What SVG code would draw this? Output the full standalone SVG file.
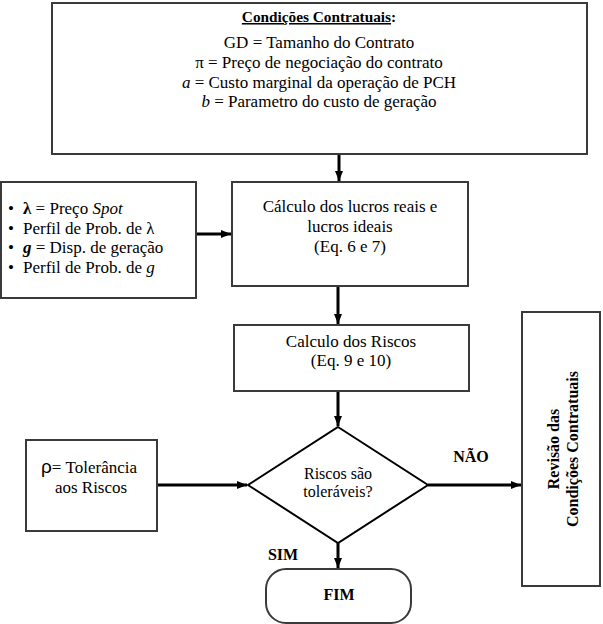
<svg xmlns="http://www.w3.org/2000/svg" width="603" height="624" viewBox="0 0 603 624">
<style>
.box{fill:#fff;stroke:#3a3a3a;stroke-width:2}
.t{font-family:'Liberation Serif','Times New Roman',Tinos,'DejaVu Serif',serif;font-size:17px;font-weight:normal;fill:#000}
.b{font-weight:bold}
.c{text-anchor:middle}
.con{stroke:#000;stroke-width:3;fill:none}
</style>
<defs>
<marker id="ah" markerUnits="userSpaceOnUse" markerWidth="10" markerHeight="10" viewBox="0 0 10 10" refX="10" refY="5" orient="auto">
<path d="M0,1 L10,5 L0,9 Z" fill="#000"/>
</marker>
</defs>
<rect width="603" height="624" fill="#fff"/>
<g id="connectors">
<line class="con" x1="339" y1="154" x2="339" y2="181" marker-end="url(#ah)"/>
<line class="con" x1="196" y1="234" x2="231" y2="234" marker-end="url(#ah)"/>
<line class="con" x1="338" y1="286" x2="338" y2="324" marker-end="url(#ah)"/>
<line class="con" x1="338" y1="391" x2="338" y2="426" marker-end="url(#ah)"/>
<line class="con" x1="157" y1="485" x2="247" y2="485" marker-end="url(#ah)"/>
<line class="con" x1="428" y1="485" x2="521" y2="485" marker-end="url(#ah)"/>
<line class="con" x1="338" y1="543" x2="338" y2="568" marker-end="url(#ah)"/>
</g>
<g id="contract" font-family="Liberation Serif, Times New Roman, serif">
<rect class="box" x="52" y="3" width="535" height="151"/>
<text class="t b c" x="319" y="22" style="font-size:15.3px"><tspan text-decoration="underline">Condições Contratuais</tspan>:</text>
<text class="t c" x="319" y="48">GD = Tamanho do Contrato</text>
<text class="t c" x="319" y="68">π = Preço de negociação do contrato</text>
<text class="t c" x="319" y="88"><tspan font-style="italic">a</tspan> = Custo marginal da operação de PCH</text>
<text class="t c" x="319" y="107"><tspan font-style="italic">b</tspan> = Parametro do custo de geração</text>
</g>
<g id="inputs">
<rect class="box" x="1" y="182" width="195" height="116"/>
<text class="t" x="8" y="214">•</text>
<text class="t" x="8" y="234">•</text>
<text class="t" x="8" y="253">•</text>
<text class="t" x="8" y="273">•</text>
<text class="t" x="23" y="214"><tspan font-weight="bold">λ</tspan> = Preço <tspan font-style="italic">Spot</tspan></text>
<text class="t" x="23" y="234">Perfil de Prob. de λ</text>
<text class="t" x="23" y="253"><tspan font-weight="bold" font-style="italic">g</tspan> = Disp. de geração</text>
<text class="t" x="23" y="273">Perfil de Prob. de <tspan font-style="italic">g</tspan></text>
</g>
<g id="profits">
<rect class="box" x="232" y="182" width="236" height="104"/>
<text class="t c" x="350" y="212">Cálculo dos lucros reais e</text>
<text class="t c" x="350" y="232">lucros ideais</text>
<text class="t c" x="350" y="252">(Eq. 6 e 7)</text>
</g>
<g id="risks">
<rect class="box" x="234" y="325" width="235" height="66"/>
<text class="t c" x="351" y="347">Calculo dos Riscos</text>
<text class="t c" x="351" y="366">(Eq. 9 e 10)</text>
</g>
<g id="tolerance">
<rect class="box" x="26" y="440" width="131" height="91"/>
<text class="t c" x="89" y="473"><tspan style="font-family:'Liberation Sans',Arial,sans-serif;font-size:19px">ρ</tspan>= Tolerância</text>
<text class="t c" x="91" y="493">aos Riscos</text>
</g>
<g id="decision">
<polygon points="338,427 428,485 338,543 248,485" fill="#fff" stroke="#000" stroke-width="2"/>
<text class="t c" x="338" y="479" style="font-size:16px">Riscos são</text>
<text class="t c" x="338" y="497" style="font-size:16px">toleráveis?</text>
</g>
<g id="revision">
<rect class="box" x="522" y="312" width="78" height="274"/>
<text class="t b c" style="font-size:16px" transform="translate(559,449) rotate(-90)">Revisão das</text>
<text class="t b c" style="font-size:16px" transform="translate(578,449) rotate(-90)">Condições Contratuais</text>
</g>
<g id="end">
<rect class="box" x="266" y="569" width="145" height="54" rx="20" ry="20"/>
<text class="t b c" style="font-size:16px" x="339" y="600">FIM</text>
</g>
<g id="labels">
<text class="t b c" style="font-size:16px" x="471" y="462">NÃO</text>
<text class="t b c" style="font-size:16px" x="283" y="560">SIM</text>
</g>
</svg>
